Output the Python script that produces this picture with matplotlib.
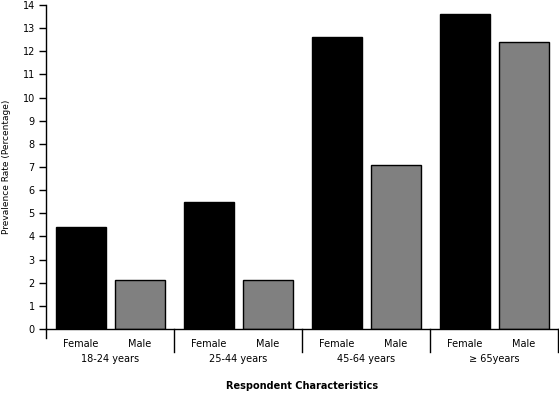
import matplotlib
matplotlib.use("Agg")
import matplotlib.pyplot as plt
import numpy as np

groups = ["18-24 years", "25-44 years", "45-64 years", "\u2265 65years"]
sexes = ["Female", "Male"]
female = [4.4, 5.5, 12.6, 13.6]
male = [2.1, 2.1, 7.1, 12.4]
colors = ["#000000", "#808080"]

plt.rcParams["font.family"] = "DejaVu Sans"

fig = plt.figure(figsize=(5.59, 3.95), dpi=100)
ax = fig.add_axes([46 / 559, 1 - 329 / 395, 512 / 559, 324 / 395])

idx = np.arange(len(groups))
offsets = [0.273, 0.734]
width = 0.39
for s, (vals, col) in enumerate(zip([female, male], colors)):
    ax.bar(idx + offsets[s], vals, width=width, color=col, edgecolor="black", linewidth=1)

ax.set_xlim(0, len(groups))
ax.set_ylim(0, 14)
ax.set_yticks(range(0, 15))
ax.tick_params(axis="y", labelsize=7, length=5, width=1, pad=3)

# sex labels under each bar, group labels below
xt = np.concatenate([idx + offsets[0], idx + offsets[1]])
xl = [sexes[0]] * len(groups) + [sexes[1]] * len(groups)
ax.set_xticks(xt)
ax.set_xticklabels(xl)
ax.tick_params(axis="x", labelsize=7, length=0, pad=7)

trans = ax.get_xaxis_transform()
for i, g in enumerate(groups):
    ax.text(i + 0.5, -0.093, g, transform=trans, ha="center", va="center", fontsize=7)
    ax.plot([i + 1, i + 1], [0, -0.071], transform=trans, color="black", lw=1, clip_on=False)
ax.plot([0, 0], [0, -0.028], transform=trans, color="black", lw=1, clip_on=False)

for sp in ["top", "right"]:
    ax.spines[sp].set_visible(False)
ax.spines["left"].set_linewidth(1)
ax.spines["bottom"].set_linewidth(1)

ax.set_ylabel("Prevalence Rate (Percentage)", fontsize=6.5, labelpad=8)
fig.text(302 / 559, 1 - 386 / 395, "Respondent Characteristics", ha="center", va="center",
         fontsize=7, fontweight="bold")

fig.savefig("out.png", dpi=100)
